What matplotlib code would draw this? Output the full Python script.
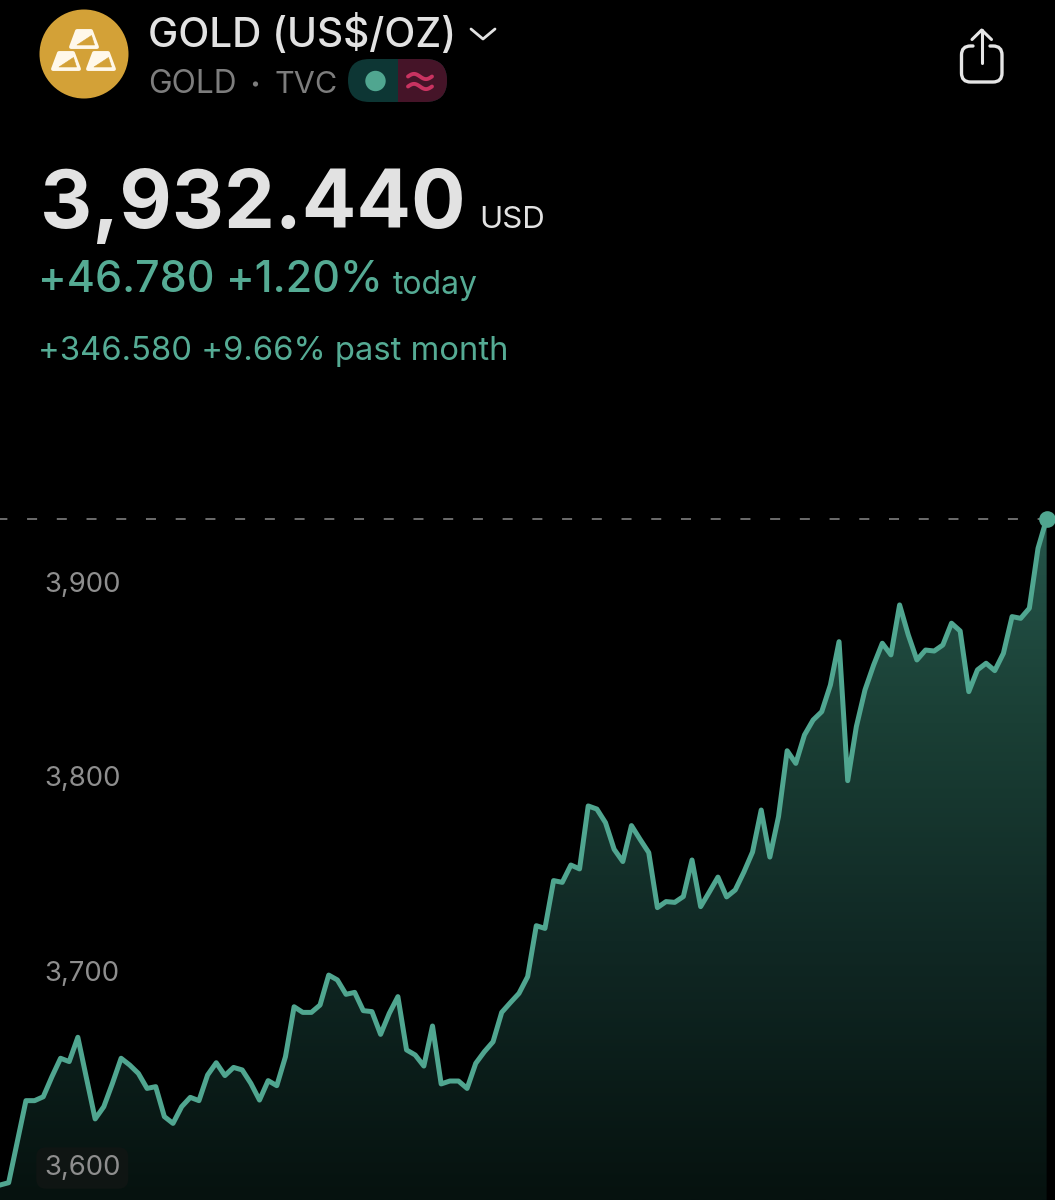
import numpy as np
import matplotlib
matplotlib.use("Agg")
import matplotlib.pyplot as plt
from matplotlib.colors import LinearSegmentedColormap
from matplotlib.patches import Circle, Polygon, FancyBboxPatch, Rectangle, PathPatch
from matplotlib.path import Path

prices_start = [3589.7, 3590.9, 3612.0, 3633.1, 3633.1, 3635.1, 3645.4, 3654.9, 3653.2, 3665.7,
                3644.6, 3623.7, 3630.0, 3642.0, 3654.9, 3651.4, 3647.1, 3639.4, 3640.3, 3624.9,
                3621.4, 3630.0, 3634.8, 3633.1, 3646.3, 3652.6, 3646.0, 3650.2, 3648.9, 3642.0,
                3633.4, 3643.4, 3640.8, 3655.7, 3681.4, 3678.5, 3678.5, 3682.3, 3697.7, 3695.2]
prices_middle = [3687.8, 3688.8, 3679.4, 3678.9, 3667.2, 3678.0, 3686.6, 3659.2, 3656.6, 3650.9,
                 3671.5, 3641.7, 3643.2, 3643.2, 3639.4, 3652.3, 3658.3, 3663.4, 3678.5, 3683.5,
                 3688.3, 3696.9, 3723.1, 3721.7, 3746.3, 3745.4, 3754.3, 3752.3, 3784.7, 3783.1,
                 3776.1, 3762.4, 3756.1, 3774.6, 3767.5, 3760.7, 3732.4, 3735.5, 3735.1, 3738.1]
prices_end = [3756.9, 3732.9, 3740.4, 3748.1, 3737.9, 3741.5, 3750.7, 3761.0, 3782.6, 3758.4,
              3779.2, 3813.1, 3806.6, 3821.2, 3828.9, 3833.2, 3846.9, 3869.2, 3797.7, 3825.5,
              3844.4, 3857.2, 3868.4, 3862.4, 3888.1, 3872.7, 3859.8, 3864.9, 3864.4, 3867.5,
              3878.7, 3874.7, 3843.5, 3854.7, 3858.1, 3854.3, 3863.2, 3882.1, 3881.2, 3886.4,
              3917.2, 3932.44]
prices = np.array(prices_start + prices_middle + prices_end)
y_ticks = [3600, 3700, 3800, 3900]
y_tick_labels = ["3,600", "3,700", "3,800", "3,900"]

BG = "#000000"
GREEN = "#50a690"
TXT = "#e2e2e2"
GRAY = "#7d7d7d"
TXTGREEN = "#55ab94"
GOLD = "#d3a137"
FONT = "Inter"

plt.rcParams["font.family"] = [FONT, "DejaVu Sans"]
plt.rcParams["lines.scale_dashes"] = False

W, H = 1055, 1200
fig = plt.figure(figsize=(W / 100, H / 100), dpi=100, facecolor=BG)

# ---- chart -----------------------------------------------------------------
ax = fig.add_axes([0, 0, 1, 1], facecolor=BG)
px_per_step = 8.65
px_per_usd = 1.944
x = np.arange(len(prices))
ax.set_xlim(0, W / px_per_step)
ax.set_ylim(3600 + (1165 - H) / px_per_usd, 3600 + 1165 / px_per_usd)
for s in ax.spines.values():
    s.set_visible(False)
ax.set_xticks([])
ax.set_yticks(y_ticks, y_tick_labels)
ax.tick_params(axis="y", length=0, pad=-31.7, labelsize=19.8, labelcolor="#8e8e8e", direction="in")
for t in ax.get_yticklabels():
    t.set_ha("left")
    t.set_zorder(10)
ax.get_yticklabels()[0].set_bbox(dict(boxstyle="round,pad=0.28,rounding_size=0.35",
                                      fc="#0f1513", ec="none"))

cmap = LinearSegmentedColormap.from_list(
    "fill", [(0.0, "#25554a"), (0.3, "#1a3f35"), (0.62, "#102824"), (1.0, "#06120f")])
y0, y1 = ax.get_ylim()
grad = np.linspace(0, 1, 256).reshape(-1, 1)
top_val = prices.max()
im = ax.imshow(grad, extent=(0, x[-1], y0, top_val), cmap=cmap, aspect="auto",
               origin="upper", zorder=1)
im.set_clip_path(Polygon(np.column_stack([np.r_[x, x[-1], 0], np.r_[prices, y0, y0]]),
                         closed=True, transform=ax.transData))
ax.set_xlim(0, W / px_per_step)
ax.set_ylim(y0, y1)

ax.axhline(prices[-1], color="#8a8a8a", lw=1.1, zorder=2,
           linestyle=(1.9, (7.2, 14.2)), dash_capstyle="butt")
ax.plot(x, prices, color=GREEN, lw=3.6, solid_joinstyle="round", zorder=3, clip_on=True)
ax.plot(x[-1:], prices[-1:], "o", color=GREEN, ms=12, mew=0, zorder=4)

# ---- header (pixel coordinates) -------------------------------------------------
ov = fig.add_axes([0, 0, 1, 1], facecolor="none", zorder=5)
ov.set_xlim(0, W)
ov.set_ylim(H, 0)
ov.axis("off")

def label(px, py, s, size, color, weight="normal"):
    ov.text(px, py, s, fontsize=size, color=color, fontweight=weight, va="baseline", ha="left")

label(148, 47, "GOLD (US$/OZ)", 29.2, TXT, "medium")
label(148, 93, "GOLD", 22.8, GRAY)
label(275, 93, "TVC", 22, GRAY)
ov.add_patch(Circle((255.5, 84), 2.6, fc=GRAY, ec="none"))
ov.plot([471, 483, 495], [29, 39, 29], color=TXT, lw=2.0, solid_capstyle="round", solid_joinstyle="round")

label(40, 228, "3,932.440", 58.2, TXT, "bold")
label(479, 228, "USD", 22.5, TXT)
label(38, 292, "+46.780 +1.20%", 31, TXTGREEN, "medium")
label(393, 294, "today", 23, TXTGREEN)
label(38, 360, "+346.580 +9.66% past month", 23.6, TXTGREEN)

# logo
ov.add_patch(Circle((84, 54), 44.5, fc=GOLD, ec="none"))
def bar(px, py):
    w, h = 26, 16
    ov.add_patch(Polygon([(px + 6, py), (px + 20, py), (px + w, py + h), (px, py + h)], closed=True,
                         fc="#fff8ea", ec="#fff8ea", lw=2.8, joinstyle="round"))
    ov.add_patch(Polygon([(px + 20.5, py + 4.5), (px + 23.5, py + 14), (px + 6, py + 14)], closed=True,
                         fc=GOLD, ec=GOLD, lw=0.4, joinstyle="round"))
bar(71, 31)
bar(53, 53)
bar(88, 53)

# status pill
ov.add_patch(FancyBboxPatch((348, 59), 99, 43, boxstyle="round,pad=0,rounding_size=21.5",
                            fc="#0d3634", ec="none", zorder=1))
clip = FancyBboxPatch((348, 59), 99, 43, boxstyle="round,pad=0,rounding_size=21.5",
                      transform=ov.transData, fc="none", ec="none")
ov.add_patch(clip)
right = Rectangle((397.5, 59), 50, 43, fc="#451428", ec="none", zorder=2)
ov.add_patch(right)
right.set_clip_path(clip)
ov.add_patch(Circle((375.5, 81), 10.2, fc=GREEN, ec="none", zorder=3))
wave_x = np.linspace(408, 432, 40)
for base in (76.5, 86.5):
    ov.plot(wave_x, base - 2.6 * np.sin((wave_x - 408) / 24 * 2 * np.pi), color="#c93361",
            lw=2.8, solid_capstyle="round", zorder=3)

# share icon
l, r, t, b, rad = 961.5, 1002, 46, 82, 9
box = Path([(973, t), (l + rad, t), (l, t), (l, t + rad), (l, b - rad), (l, b), (l + rad, b),
            (r - rad, b), (r, b), (r, b - rad), (r, t + rad), (r, t), (r - rad, t), (990, t)],
           [Path.MOVETO, Path.LINETO, Path.CURVE3, Path.CURVE3, Path.LINETO, Path.CURVE3, Path.CURVE3,
            Path.LINETO, Path.CURVE3, Path.CURVE3, Path.LINETO, Path.CURVE3, Path.CURVE3, Path.LINETO])
ov.add_patch(PathPatch(box, fc="none", ec="#e6e6e6", lw=2.4, capstyle="round"))
ov.plot([981.7, 981.7], [30, 63], color="#e6e6e6", lw=2.2, solid_capstyle="round")
ov.plot([972, 981.7, 991.5], [39.5, 30, 39.5], color="#e6e6e6", lw=2.2,
        solid_capstyle="round", solid_joinstyle="round")

fig.savefig("out.png", dpi=100, facecolor=BG)
